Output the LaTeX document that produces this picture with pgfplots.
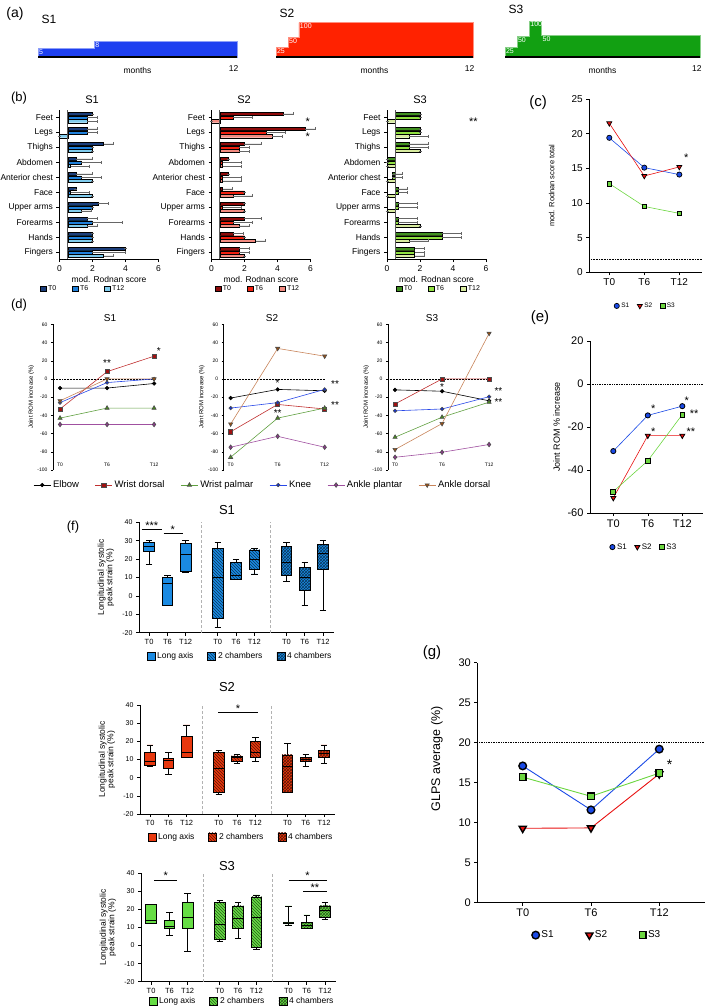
\documentclass[border=0pt]{standalone}
\usepackage{fontspec}
\setmainfont{Liberation Sans}
\usepackage{pgfplots}
\usepackage{pgfplotstable}
\pgfplotsset{compat=1.18}
\usepgfplotslibrary{statistics}
\usetikzlibrary{patterns}
\newcommand\fs[1]{\fontsize{#1}{#1}\selectfont}

\definecolor{aBlue}{HTML}{1E40F0}
\definecolor{aRed}{HTML}{FF2200}
\definecolor{aGreen}{HTML}{12A012}
\definecolor{bS1a}{HTML}{1B3D7A}
\definecolor{bS1b}{HTML}{1F80DA}
\definecolor{bS1c}{HTML}{80CCEE}
\definecolor{bS2a}{HTML}{8E0A0A}
\definecolor{bS2b}{HTML}{F02010}
\definecolor{bS2c}{HTML}{F28A80}
\definecolor{bS3a}{HTML}{3F8F1F}
\definecolor{bS3b}{HTML}{90E040}
\definecolor{bS3c}{HTML}{D8ECA0}
\definecolor{cBlue}{HTML}{1A4AE6}
\definecolor{cRed}{HTML}{E81010}
\definecolor{cGreen}{HTML}{6CD640}
\definecolor{dRedL}{HTML}{C03030}
\definecolor{dRed}{HTML}{A01010}
\definecolor{dGreenL}{HTML}{60A040}
\definecolor{dGreen}{HTML}{4A8A20}
\definecolor{dBlueL}{HTML}{2848E8}
\definecolor{dBlue}{HTML}{1030D0}
\definecolor{dPurpleL}{HTML}{A050A0}
\definecolor{dPurple}{HTML}{8A3A8A}
\definecolor{dBrownL}{HTML}{C8845A}
\definecolor{dBrown}{HTML}{9A5010}
\definecolor{fBlue}{HTML}{1A8AE2}
\definecolor{fRed}{HTML}{E8380E}
\definecolor{fGreen}{HTML}{66DD44}

\pgfplotsset{
  gp/.style={scale only axis, axis lines=left, axis line style={-, line width=0.8pt},
    tick align=outside, tick style={black, line width=0.6pt}, major tick length=3pt,
    /pgf/number format/assume math mode=true, clip=false},
  bstyle/.style={width=99pt, height=149pt, xmin=-0.5, xmax=5.5, ymin=0.55, ymax=10.5,
    xtick={-0.5,1.5,3.5,5.5}, xticklabels={0,2,4,6}, ytick={1,...,10},
    yticklabels={Fingers,Hands,Forearms,Upper arms,Face,Anterior chest,Abdomen,Thighs,Legs,Feet},
    ticklabel style={font=\fs{8.5}}, xlabel={mod. Rodnan score}, xlabel style={font=\fs{8.5}, inner sep=1pt},
    legend columns=3, legend style={anchor=center, draw=none, fill=none, font=\fs{7},
      /tikz/every even column/.append style={column sep=14pt}},
    xbar, bar width=3.2pt},
  bplot/.style={draw=black, line width=0.3pt,
    legend image code/.code={\draw[##1] (0pt,-2.8pt) rectangle (5.6pt,2.8pt);},
    error bars/.cd, x dir=plus, x explicit,
    error bar style={gray!80!black, line width=0.5pt},
    error mark options={rotate=90, mark size=1.5pt, gray!80!black, line width=0.5pt}},
  mleg/.style={legend columns=3, legend style={anchor=center, draw=none, fill=none,
      /tikz/every even column/.append style={column sep=6pt}},
    legend image code/.code={\draw[##1] plot coordinates {(3pt,0pt)};}},
  sS1/.style 2 args={cBlue, line width=0.6pt, mark=*, mark size=#1, mark options={fill=cBlue, draw=black, line width=#2, solid}},
  sS2/.style 2 args={cRed, line width=0.6pt, mark=triangle*, mark size=#1, mark options={rotate=180, fill=cRed, draw=black, line width=#2, solid}},
  sS3/.style 2 args={cGreen, line width=0.6pt, mark=square*, mark size=#1, mark options={fill=cGreen, draw=black, line width=#2, solid}},
  dstyle/.style={gp, axis x line=none, width=108.6pt, height=145.7pt, xmin=-0.15, xmax=2.16,
    ymin=-100, ymax=60, ytick={-100,-80,...,60}, yticklabel style={font=\fs{5}},
    major tick length=2pt, axis line style={line width=0.5pt}, tick style={line width=0.4pt},
    ylabel={Joint ROM increase (\%)}, ylabel style={font=\fs{6}, at={(axis description cs:-0.2,0.5)}, anchor=center}},
  dEl/.style={black, line width=0.6pt, mark=*, mark size=1.8pt, mark options={fill=black, draw=black}},
  dWD/.style={dRedL, line width=0.6pt, mark=square*, mark size=2.1pt, mark options={fill=dRed, draw=black!70}},
  dWP/.style={dGreenL, line width=0.6pt, mark=triangle*, mark size=2.4pt, mark options={fill=dGreen, draw=black!70}},
  dKn/.style={dBlueL, line width=0.6pt, mark=*, mark size=1.8pt, mark options={fill=dBlue, draw=black!70}},
  dAP/.style={dPurpleL, line width=0.6pt, mark=diamond*, mark size=2.3pt, mark options={fill=dPurple, draw=black!70}},
  dAD/.style={dBrownL, line width=0.6pt, mark=triangle*, mark size=2.4pt, mark options={rotate=180, fill=dBrown, draw=black!70}},
  fstyle/.style={gp, width=195pt, xmin=0.45, xmax=11.1, ymin=-20, ymax=40, ytick={-20,-10,...,40},
    xtick={1,2,3,4.75,5.75,6.75,8.5,9.5,10.5}, xticklabels={T0,T6,T12,T0,T6,T12,T0,T6,T12},
    xticklabel style={font=\fs{7.5}}, yticklabel style={font=\fs{7}},
    axis line style={line width=0.6pt}, tick style={line width=0.5pt},
    boxplot/draw direction=y,
    ylabel={Longitudinal systolic\\peak strain (\%)},
    ylabel style={align=center, font=\fs{8.5}, at={(axis description cs:-0.17,0.5)}, anchor=center},
    legend columns=3, legend style={anchor=center, draw=none, fill=none, font=\fs{8.5},
      /tikz/every even column/.append style={column sep=12pt}}},
  fleg/.style={legend image code/.code={\draw[##1] (0pt,-4pt) rectangle (8pt,4pt);}},
  fLA/.style={draw=black, line width=0.6pt, fill=#1, fleg},
  f2C/.style={draw=black, line width=0.6pt, fill=#1, postaction={pattern=north west lines, pattern color=#1!40!black}, fleg,
    boxplot/every box/.append style={fill=#1, postaction={pattern=north west lines, pattern color=#1!40!black}}},
  f4C/.style={draw=black, line width=0.6pt, fill=#1, postaction={pattern=crosshatch, pattern color=#1!40!black}, fleg,
    boxplot/every box/.append style={fill=#1, postaction={pattern=crosshatch, pattern color=#1!40!black}}},
}
\newcommand\bx[7]{\addplot[boxplot prepared={draw position=#2, lower whisker=#3, lower quartile=#4, median=#5, upper quartile=#6, upper whisker=#7, box extend=0.58, whisker extend=0.35}, #1] coordinates {};}

\pgfplotstableread{
cat v0 e0 v6 e6 v12 e12
10 2.00 0 1.67 0.6 1.67 0.6
9 1.67 0.6 1.67 0.6 0 0
8 2.67 0.6 2.00 0 2.00 0
7 1.00 1.0 1.33 1.2 0.67 1.15
6 1.00 1.0 1.33 1.2 2.00 0
5 1.00 0 0.67 1.15 2.00 0
4 2.33 0.6 2.00 0 1.33 0.58
3 1.67 0.6 2.00 1.8 1.67 0.6
2 2.00 0 2.00 0 2.00 0
1 4.00 0 2.00 2.0 2.67 0.6
}\bSone
\pgfplotstableread{
cat v0 e0 v6 e6 v12 e12
10 4.33 0.6 1.33 1.15 0 0
9 5.67 0.6 3.33 1.15 3.67 0.6
8 2.00 1.0 1.67 0.6 1.67 0.6
7 1.00 0 0.67 1.15 0.67 1.15
6 1.00 0 0.67 1.15 0.67 1.15
5 0.67 0.58 2.00 0 1.33 1.15
4 2.00 0 0.67 1.15 2.00 0
3 2.00 1.0 1.33 1.15 1.67 0.6
2 1.33 0.58 2.00 0 2.67 0.6
1 1.67 0.6 1.67 0.6 2.00 0
}\bStwo
\pgfplotstableread{
cat v0 e0 v6 e6 v12 e12
10 2.00 0 2.00 0 0 0
9 2.00 0 2.00 0 1.33 1.15
8 1.33 1.15 1.33 1.15 2.00 0
7 0 0 0 0 0 0
6 0.33 0.58 0.33 0.58 0 0
5 0.67 0.58 0.67 0.58 0 0
4 0.67 1.15 0.67 1.15 0 0
3 0.67 1.15 0.67 1.15 2.00 0
2 3.33 1.15 3.33 1.15 1.33 1.15
1 1.67 0.6 1.67 0.6 1.67 0.6
}\bSthree

\begin{document}
\begin{tikzpicture}
\useasboundingbox (0pt,0pt) rectangle (709pt,-1007pt);
% ---------- panel letters and titles
\node[font=\fs{14}] at (15pt,-14pt) {(a)};
\node[font=\fs{13}] at (19pt,-98pt) {(b)};
\node[font=\fs{15}] at (538pt,-103pt) {(c)};
\node[font=\fs{13}] at (19pt,-305pt) {(d)};
\node[font=\fs{15}] at (540pt,-318pt) {(e)};
\node[font=\fs{13}] at (73pt,-527pt) {(f)};
\node[font=\fs{15}] at (432pt,-653pt) {(g)};
\node[font=\fs{12}, anchor=west] at (38pt,-19pt) {S1};
\node[font=\fs{12}, anchor=west] at (276pt,-13pt) {S2};
\node[font=\fs{12}, anchor=west] at (505pt,-9pt) {S3};
\node[font=\fs{11}] at (92pt,-100pt) {S1};
\node[font=\fs{11}] at (244pt,-100pt) {S2};
\node[font=\fs{11}] at (420pt,-100pt) {S3};
\node[font=\fs{10}] at (110pt,-318pt) {S1};
\node[font=\fs{10}] at (272pt,-318pt) {S2};
\node[font=\fs{10}] at (432pt,-318pt) {S3};
\node[font=\fs{13}] at (227pt,-510pt) {S1};
\node[font=\fs{13}] at (227pt,-687pt) {S2};
\node[font=\fs{13}] at (227pt,-866pt) {S3};

% ---------- (a)
\begin{axis}[scale only axis, axis lines=none, clip=false, width=199pt, height=36pt, at={(38pt,-57pt)}, anchor=south west, xmin=0, xmax=12, ymin=0, ymax=105]
\addplot[const plot, fill=aBlue, draw=aBlue!50!white, line width=0.6pt] coordinates {(0,25) (3.4,45) (12,45)} \closedcycle;
\draw[line width=1.8pt] (axis cs:0,0) -- (axis cs:12,0);
\node[anchor=north west, text=white, font=\fs{7}, inner sep=0.8pt] at (axis cs:0,25) {5};
\node[anchor=north west, text=white, font=\fs{7}, inner sep=0.8pt] at (axis cs:3.4,45) {8};
\node[font=\fs{8.5}] at (axis cs:6,-38) {months};
\node[font=\fs{8.5}] at (axis cs:11.8,-33) {12};
\end{axis}
\begin{axis}[scale only axis, axis lines=none, clip=false, width=197pt, height=36pt, at={(276pt,-57pt)}, anchor=south west, xmin=0, xmax=12, ymin=0, ymax=105]
\addplot[const plot, fill=aRed, draw=aRed!50!white, line width=0.6pt] coordinates {(0,27) (0.74,58) (1.4,100) (12,100)} \closedcycle;
\draw[line width=1.8pt] (axis cs:0,0) -- (axis cs:12,0);
\node[anchor=north west, text=white, font=\fs{7}, inner sep=0.8pt] at (axis cs:0,27) {25};
\node[anchor=north west, text=white, font=\fs{7}, inner sep=0.8pt] at (axis cs:0.74,58) {50};
\node[anchor=north west, text=white, font=\fs{7}, inner sep=0.8pt] at (axis cs:1.4,100) {100};
\node[font=\fs{8.5}] at (axis cs:6,-38) {months};
\node[font=\fs{8.5}] at (axis cs:11.8,-33) {12};
\end{axis}
\begin{axis}[scale only axis, axis lines=none, clip=false, width=195pt, height=36pt, at={(505pt,-57pt)}, anchor=south west, xmin=0, xmax=12, ymin=0, ymax=105]
\addplot[const plot, fill=aGreen, draw=aGreen!50!white, line width=0.6pt] coordinates {(0,28) (0.74,60) (1.5,105) (2.26,62) (12,62)} \closedcycle;
\draw[line width=1.8pt] (axis cs:0,0) -- (axis cs:12,0);
\node[anchor=north west, text=white, font=\fs{7}, inner sep=0.8pt] at (axis cs:0,28) {25};
\node[anchor=north west, text=white, font=\fs{7}, inner sep=0.8pt] at (axis cs:0.74,60) {50};
\node[anchor=north west, text=white, font=\fs{7}, inner sep=0.8pt] at (axis cs:1.5,105) {100};
\node[anchor=north west, text=white, font=\fs{7}, inner sep=0.8pt] at (axis cs:2.26,62) {50};
\node[font=\fs{8.5}] at (axis cs:6,-38) {months};
\node[font=\fs{8.5}] at (axis cs:11.8,-33) {12};
\end{axis}

% ---------- (b)
\begin{axis}[gp, bstyle, at={(59.5pt,-110pt)}, anchor=north west, legend style={at={(0.24,-0.2)}}]
\addplot[bar shift=3.6pt, fill=bS1a, bplot] table[x expr=\thisrow{v0}-0.5, y=cat, x error=e0]{\bSone};
\addplot[bar shift=0pt, fill=bS1b, bplot] table[x expr=\thisrow{v6}-0.5, y=cat, x error=e6]{\bSone};
\addplot[bar shift=-3.6pt, fill=bS1c, bplot] table[x expr=\thisrow{v12}-0.5, y=cat, x error=e12]{\bSone};
\legend{T0,T6,T12}
\draw[black!65, line width=0.8pt] (axis cs:0,0.55) -- (axis cs:0,10.5);
\end{axis}
\begin{axis}[gp, bstyle, at={(211.5pt,-110pt)}, anchor=north west, legend style={at={(0.47,-0.2)}}]
\addplot[bar shift=3.6pt, fill=bS2a, bplot] table[x expr=\thisrow{v0}-0.5, y=cat, x error=e0]{\bStwo};
\addplot[bar shift=0pt, fill=bS2b, bplot] table[x expr=\thisrow{v6}-0.5, y=cat, x error=e6]{\bStwo};
\addplot[bar shift=-3.6pt, fill=bS2c, bplot] table[x expr=\thisrow{v12}-0.5, y=cat, x error=e12]{\bStwo};
\legend{T0,T6,T12}
\draw[black!65, line width=0.8pt] (axis cs:0,0.55) -- (axis cs:0,10.5);
\node[font=\fs{11}] at (axis cs:5.33,9.75) {*};
\node[font=\fs{11}] at (axis cs:5.33,8.7) {*};
\end{axis}
\begin{axis}[gp, bstyle, at={(387pt,-110pt)}, anchor=north west, legend style={at={(0.525,-0.2)}}]
\addplot[bar shift=3.6pt, fill=bS3a, bplot] table[x expr=\thisrow{v0}-0.5, y=cat, x error=e0]{\bSthree};
\addplot[bar shift=0pt, fill=bS3b, bplot] table[x expr=\thisrow{v6}-0.5, y=cat, x error=e6]{\bSthree};
\addplot[bar shift=-3.6pt, fill=bS3c, bplot] table[x expr=\thisrow{v12}-0.5, y=cat, x error=e12]{\bSthree};
\legend{T0,T6,T12}
\draw[black!65, line width=0.8pt] (axis cs:0,0.55) -- (axis cs:0,10.5);
\node[font=\fs{11}] at (axis cs:4.73,9.75) {**};
\end{axis}

% ---------- (c)
\begin{axis}[gp, at={(589.3pt,-272.3pt)}, anchor=south west, width=112.4pt, height=173.3pt,
  xmin=-0.571, xmax=2.64, ymin=0, ymax=25, xtick={0,1,2}, xticklabels={T0,T6,T12},
  ytick={0,5,...,25}, ticklabel style={font=\fs{10}},
  ylabel={mod. Rodnan score total}, ylabel style={font=\fs{7.5}, at={(axis description cs:-0.335,0.5)}, anchor=center},
  mleg, legend style={at={(0.5,-0.194)}, font=\fs{6.5}}]
\draw[densely dotted, line width=0.6pt] (axis cs:-0.571,1.9) -- (axis cs:2.64,1.9);
\addplot[sS1={2.6pt}{0.7pt}] coordinates {(0,19.4) (1,15.1) (2,14.1)};
\addplot[sS2={2.9pt}{0.7pt}] coordinates {(0,21.5) (1,13.9) (2,15.2)};
\addplot[sS3={2.3pt}{0.7pt}] coordinates {(0,12.8) (1,9.5) (2,8.5)};
\legend{S1,S2,S3}
\node[font=\fs{11}] at (axis cs:2.2,16.6) {*};
\end{axis}

% ---------- (d)
\begin{axis}[dstyle, at={(53pt,-470pt)}, anchor=south west, legend columns=6,
  legend style={at={(-0.21,-0.103)}, anchor=west, draw=none, fill=none, font=\fs{9.5},
  /tikz/every even column/.append style={column sep=14pt}}]
\draw[densely dotted, line width=0.5pt] (axis cs:-0.15,0) -- (axis cs:2,0);
\addplot[dEl] coordinates {(0,-10) (1,-10) (2,-5)};
\addplot[dWD] coordinates {(0,-33) (1,8) (2,25)};
\addplot[dWP] coordinates {(0,-43) (1,-32) (2,-32)};
\addplot[dKn] coordinates {(0,-26) (1,-4) (2,0)};
\addplot[dAP] coordinates {(0,-50) (1,-50) (2,-50)};
\addplot[dAD] coordinates {(0,-24) (1,0) (2,0)};
\legend{Elbow,Wrist dorsal,Wrist palmar,Knee,Ankle plantar,Ankle dorsal}
\node[font=\fs{5}] at (axis cs:0,-94) {T0};
\node[font=\fs{5}] at (axis cs:1,-94) {T6};
\node[font=\fs{5}] at (axis cs:2,-94) {T12};
\node[font=\fs{10}] at (axis cs:1,17) {**};
\node[font=\fs{10}] at (axis cs:2.1,31) {*};
\end{axis}
\begin{axis}[dstyle, at={(223.6pt,-470pt)}, anchor=south west]
\draw[densely dotted, line width=0.5pt] (axis cs:-0.15,0) -- (axis cs:2,0);
\addplot[dEl] coordinates {(0,-21) (1,-11.5) (2,-13)};
\addplot[dWD] coordinates {(0,-58) (1,-28) (2,-33)};
\addplot[dWP] coordinates {(0,-86) (1,-43) (2,-32)};
\addplot[dKn] coordinates {(0,-32) (1,-26) (2,-11.5)};
\addplot[dAP] coordinates {(0,-75) (1,-63) (2,-75)};
\addplot[dAD] coordinates {(0,-49.5) (1,33.5) (2,25)};
\node[font=\fs{5}] at (axis cs:0,-94) {T0};
\node[font=\fs{5}] at (axis cs:1,-94) {T6};
\node[font=\fs{5}] at (axis cs:2,-94) {T12};
\node[font=\fs{10}] at (axis cs:1,-5) {*};
\node[font=\fs{10}] at (axis cs:2.22,-6) {**};
\node[font=\fs{10}] at (axis cs:2.22,-29) {**};
\node[font=\fs{10}] at (axis cs:1,-37) {**};
\end{axis}
\begin{axis}[dstyle, at={(388pt,-470pt)}, anchor=south west]
\draw[densely dotted, line width=0.5pt] (axis cs:-0.15,0) -- (axis cs:2,0);
\addplot[dEl] coordinates {(0,-12) (1,-13.5) (2,-24)};
\addplot[dWD] coordinates {(0,-27.5) (1,0) (2,0)};
\addplot[dWP] coordinates {(0,-64) (1,-42) (2,-25.5)};
\addplot[dKn] coordinates {(0,-35) (1,-33) (2,-19.5)};
\addplot[dAP] coordinates {(0,-86) (1,-80.5) (2,-72)};
\addplot[dAD] coordinates {(0,-77.5) (1,-49) (2,50)};
\node[font=\fs{5}] at (axis cs:0,-94) {T0};
\node[font=\fs{5}] at (axis cs:1,-94) {T6};
\node[font=\fs{5}] at (axis cs:2,-94) {T12};
\node[font=\fs{10}] at (axis cs:1,-9) {*};
\node[font=\fs{10}] at (axis cs:2.2,-13) {**};
\node[font=\fs{10}] at (axis cs:2.2,-25.5) {**};
\end{axis}

% ---------- (e)
\begin{axis}[gp, at={(590pt,-513pt)}, anchor=south west, width=113pt, height=172pt,
  xmin=-0.675, xmax=2.6, ymin=-60, ymax=20, xtick={0,1,2}, xticklabels={T0,T6,T12},
  ytick={-60,-40,-20,0,20}, ticklabel style={font=\fs{11}},
  ylabel={Joint ROM \% increase}, ylabel style={font=\fs{9}, at={(axis description cs:-0.295,0.5)}, anchor=center},
  mleg, legend style={at={(0.478,-0.198)}, font=\fs{8}}]
\draw[densely dotted, line width=0.7pt] (axis cs:-0.675,0) -- (axis cs:2.6,0);
\addplot[sS1={2.6pt}{0.8pt}] coordinates {(0,-31.2) (1,-14.6) (2,-10.3)};
\addplot[sS2={2.9pt}{0.8pt}] coordinates {(0,-53) (1,-24) (2,-24)};
\addplot[sS3={2.4pt}{0.8pt}] coordinates {(0,-50) (1,-35.7) (2,-14.2)};
\legend{S1,S2,S3}
\node[font=\fs{11}] at (axis cs:1.16,-11.5) {*};
\node[font=\fs{11}] at (axis cs:2.13,-8) {*};
\node[font=\fs{11}] at (axis cs:2.34,-13.8) {**};
\node[font=\fs{11}] at (axis cs:1.16,-22.2) {*};
\node[font=\fs{11}] at (axis cs:2.25,-22.2) {**};
\end{axis}

% ---------- (f) S1
\begin{axis}[fstyle, at={(139pt,-632.7pt)}, anchor=south west, height=110.4pt, legend style={at={(0.518,-0.211)}}]
\bx{fLA=fBlue}{1}{17}{24.4}{27}{29}{30}
\bx{f2C=fBlue}{4.75}{-17}{-12}{10}{26}{29}
\bx{f4C=fBlue}{8.5}{8}{11.4}{18.3}{26.8}{29}
\legend{Long axis,2 chambers,4 chambers}
\bx{fLA=fBlue, forget plot}{2}{-5}{-5}{7}{10}{11}
\bx{fLA=fBlue, forget plot}{3}{13}{13.4}{22.5}{28.5}{30}
\bx{f2C=fBlue, forget plot}{5.75}{9}{9}{11}{18}{20}
\bx{f2C=fBlue, forget plot}{6.75}{12}{14.5}{20}{25}{26}
\bx{f4C=fBlue, forget plot}{9.5}{-5}{3.2}{10}{15.5}{18}
\bx{f4C=fBlue, forget plot}{10.5}{-8}{14.3}{23}{27.8}{30}
\draw[gray!60, line width=0.5pt, densely dashed] (axis cs:3.875,-20) -- (axis cs:3.875,40);
\draw[gray!60, line width=0.5pt, densely dashed] (axis cs:7.625,-20) -- (axis cs:7.625,40);
\draw[line width=0.6pt] (axis cs:0.6,36) -- (axis cs:1.7,36);
\node[font=\fs{11}] at (axis cs:1.15,38.2) {***};
\draw[line width=0.6pt] (axis cs:1.8,34) -- (axis cs:2.85,34);
\node[font=\fs{11}] at (axis cs:2.3,36.2) {*};
\end{axis}

% ---------- (f) S2
\begin{axis}[fstyle, at={(140pt,-814pt)}, anchor=south west, height=109pt, legend style={at={(0.518,-0.21)}}]
\bx{fLA=fRed}{1}{6}{7}{9}{14}{18}
\bx{f2C=fRed}{4.75}{-9}{-8}{5}{14}{15}
\bx{f4C=fRed}{8.5}{-8}{-8}{6}{12.5}{19}
\legend{Long axis,2 chambers,4 chambers}
\bx{fLA=fRed, forget plot}{2}{2}{5}{9.5}{10.5}{14}
\bx{fLA=fRed, forget plot}{3}{11}{11}{14}{23}{29}
\bx{f2C=fRed, forget plot}{5.75}{8}{9}{11}{12}{13}
\bx{f2C=fRed, forget plot}{6.75}{9}{11}{14}{20}{22}
\bx{f4C=fRed, forget plot}{9.5}{6}{9}{10}{11}{13}
\bx{f4C=fRed, forget plot}{10.5}{8}{11}{13.6}{15}{18}
\draw[gray!60, line width=0.5pt, densely dashed] (axis cs:3.875,-20) -- (axis cs:3.875,40);
\draw[gray!60, line width=0.5pt, densely dashed] (axis cs:7.625,-20) -- (axis cs:7.625,40);
\draw[line width=0.6pt] (axis cs:4.72,36) -- (axis cs:6.87,36);
\node[font=\fs{11}] at (axis cs:5.8,38.2) {*};
\end{axis}

% ---------- (f) S3
\begin{axis}[fstyle, at={(141pt,-981.7pt)}, anchor=south west, height=108.4pt, legend style={at={(0.518,-0.18)}}]
\bx{fLA=fGreen}{1}{12.5}{12.5}{14}{23}{23}
\bx{f2C=fGreen}{4.75}{2.5}{3.4}{12}{24}{25}
\bx{f4C=fGreen}{8.5}{11.5}{12.3}{12.5}{13}{22}
\legend{Long axis,2 chambers,4 chambers}
\bx{fLA=fGreen, forget plot}{2}{5.5}{9.7}{10.8}{14}{18.5}
\bx{fLA=fGreen, forget plot}{3}{-3}{9.7}{15.5}{24}{29}
\bx{f2C=fGreen, forget plot}{5.75}{4}{9.7}{15}{22}{24}
\bx{f2C=fGreen, forget plot}{6.75}{-2}{-1}{15.5}{27}{28}
\bx{f4C=fGreen, forget plot}{9.5}{9.5}{9.5}{11}{13}{17}
\bx{f4C=fGreen, forget plot}{10.5}{14.5}{15.5}{19.5}{22}{24}
\draw[gray!60, line width=0.5pt, densely dashed] (axis cs:3.875,-20) -- (axis cs:3.875,40);
\draw[gray!60, line width=0.5pt, densely dashed] (axis cs:7.625,-20) -- (axis cs:7.625,40);
\draw[line width=0.6pt] (axis cs:1.17,36.3) -- (axis cs:2.44,36.3);
\node[font=\fs{11}] at (axis cs:1.8,38.5) {*};
\draw[line width=0.6pt] (axis cs:8.51,36.3) -- (axis cs:10.6,36.3);
\node[font=\fs{11}] at (axis cs:9.55,38.5) {*};
\draw[line width=0.6pt] (axis cs:9.3,30) -- (axis cs:10.6,30);
\node[font=\fs{11}] at (axis cs:9.95,32.2) {**};
\end{axis}

% ---------- (g)
\begin{axis}[gp, at={(477.3pt,-902.7pt)}, anchor=south west, width=227.7pt, height=240pt,
  xmin=-0.665, xmax=2.67, ymin=0, ymax=30, ytick={0,5,...,30}, xtick={0,1,2}, xticklabels={T0,T6,T12},
  ticklabel style={font=\fs{11}},
  ylabel={GLPS average (\%)}, ylabel style={font=\fs{12.5}, at={(axis description cs:-0.178,0.6)}, anchor=center},
  mleg, legend style={at={(0.526,-0.135)}, font=\fs{10}, /tikz/every even column/.append style={column sep=30pt}}]
\draw[densely dotted, line width=0.7pt] (axis cs:-0.665,20) -- (axis cs:2.67,20);
\addplot[sS1={3.8pt}{1.4pt}, line width=0.9pt] coordinates {(0,17.1) (1,11.6) (2,19.2)};
\addplot[sS2={4.2pt}{1.4pt}, line width=0.9pt] coordinates {(0,9.3) (1,9.35) (2,16.1)};
\addplot[sS3={3.4pt}{1.4pt}, line width=0.9pt] coordinates {(0,15.7) (1,13.3) (2,16.2)};
\legend{S1,S2,S3}
\node[font=\fs{14}] at (axis cs:2.15,17.2) {*};
\end{axis}
\end{tikzpicture}
\end{document}
